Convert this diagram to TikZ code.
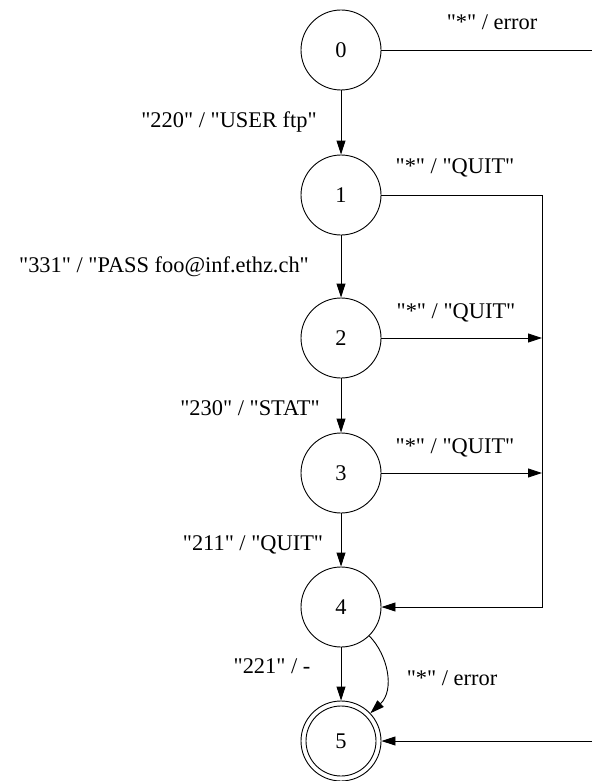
\documentclass[tikz,border=0pt]{standalone}
\usepackage{fontspec}
% no TeX mapping, so typed " stays a straight quote
\setmainfont{Liberation Serif}[Ligatures=TeXOff]
\usetikzlibrary{arrows.meta}

\begin{document}
\begin{tikzpicture}[x=1pt, y=-1pt,
  every node/.style={font=\fontsize{22.4}{26}\selectfont},
  state/.style={circle, draw, line width=0.9pt, minimum size=80pt, inner sep=0pt},
  lbl/.style={anchor=base, inner sep=0pt},
  edge/.style={line width=0.9pt},
  arr/.style={edge, -{Triangle[length=14pt, width=9pt]}}]
  \useasboundingbox (0,0) rectangle (592,781);

  % states
  \node[state] (n0) at (341,50)  {0};
  \node[state] (n1) at (341,195) {1};
  \node[state] (n2) at (341,338) {2};
  \node[state] (n3) at (341,473) {3};
  \node[state] (n4) at (341,607) {4};
  \node[state] (n5) at (341,741) {5};
  \draw[line width=0.9pt] (n5.center) circle (35pt);

  % free ends and corners of the side paths
  \coordinate (errIn)   at (592,50);
  \coordinate (errOut)  at (592,741);
  \coordinate (quitTop) at (542,195);
  \coordinate (quitBot) at (542,607);
  \coordinate (q2) at (542,338);
  \coordinate (q3) at (542,473);

  % main chain
  \draw[arr] (n0) -- (n1);
  \draw[arr] (n1) -- (n2);
  \draw[arr] (n2) -- (n3);
  \draw[arr] (n3) -- (n4);
  \draw[arr] (n4) -- (n5);
  \draw[arr] (n4) .. controls (388,655) and (395,690) .. (n5);

  % error / quit paths
  \draw[edge] (n0.east) -- (errIn);
  \draw[arr] (errOut) -- (n5.east);
  \draw[arr] (n1.east) -- (quitTop) -- (quitBot) -- (n4.east);
  \draw[arr] (n2.east) -- (q2);
  \draw[arr] (n3.east) -- (q3);

  % transition labels
  \node[lbl] (l0)  at (492,30)  {"*" / error};
  \node[lbl] (l01) at (229,128) {"220" / "USER ftp"};
  \node[lbl] (l1)  at (455,173) {"*" / "QUIT"};
  \node[lbl] (l12) at (164,272) {"331" / "PASS foo@inf.ethz.ch"};
  \node[lbl] (l2)  at (456,318) {"*" / "QUIT"};
  \node[lbl] (l23) at (250,415) {"230" / "STAT"};
  \node[lbl] (l3)  at (455,453) {"*" / "QUIT"};
  \node[lbl] (l34) at (253,550) {"211" / "QUIT"};
  \node[lbl] (l45) at (272,673) {"221" / -};
  \node[lbl] (l4e) at (452,685) {"*" / error};
\end{tikzpicture}
\end{document}
